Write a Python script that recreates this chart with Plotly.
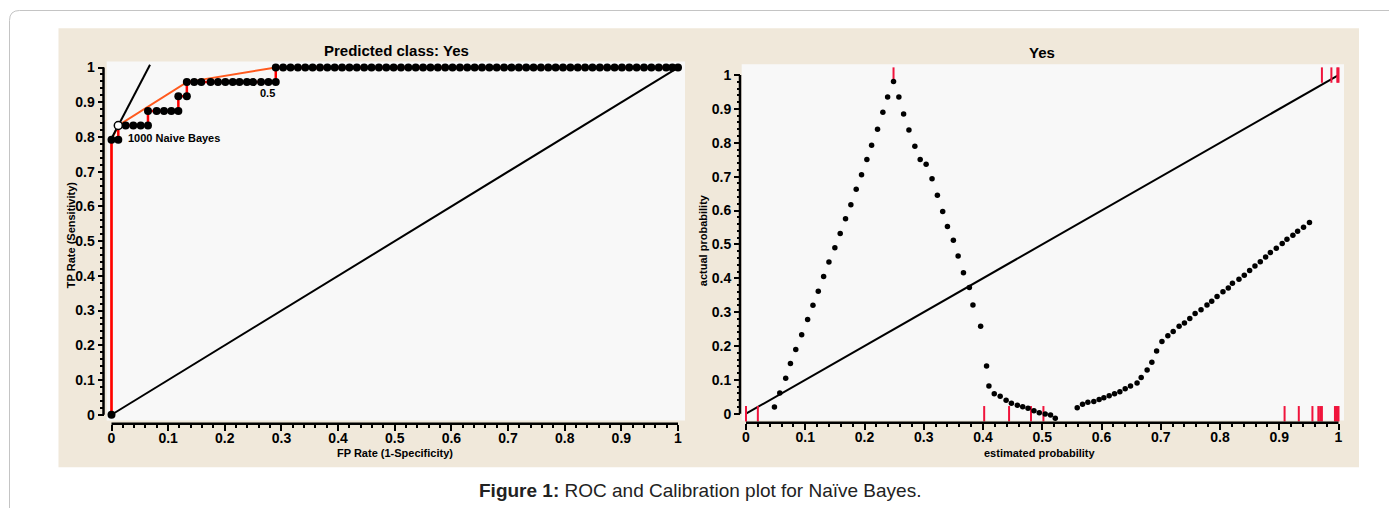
import plotly.graph_objects as go

# ---------------- data ----------------
# ROC curve (left panel)
roc_fp = [0.0, 0.0, 0.012, 0.012, 0.025, 0.0385, 0.0515, 0.0644,
          0.0644, 0.0797, 0.0927, 0.1056, 0.118,
          0.118, 0.133,
          0.133, 0.146, 0.1585, 0.175, 0.188, 0.201, 0.214, 0.226, 0.239, 0.250, 0.264, 0.277, 0.290,
          0.290, 0.303, 0.316, 0.329, 0.342, 0.355, 0.368, 0.381, 0.394, 0.407, 0.420, 0.433, 0.446,
          0.459, 0.472, 0.485, 0.498, 0.511, 0.524, 0.537, 0.550, 0.563, 0.576, 0.589, 0.602, 0.615,
          0.628, 0.641, 0.654, 0.667, 0.680, 0.693, 0.706, 0.719, 0.732, 0.745, 0.758, 0.771, 0.784,
          0.797, 0.810, 0.823, 0.836, 0.849, 0.862, 0.875, 0.888, 0.901, 0.914, 0.927, 0.940, 0.953,
          0.966, 0.979, 0.990, 1.0]
roc_tp = [0.0, 0.792, 0.792, 0.833, 0.833, 0.833, 0.833, 0.833,
          0.875, 0.875, 0.875, 0.875, 0.875,
          0.917, 0.917,
          0.958, 0.958, 0.958, 0.958, 0.958, 0.958, 0.958, 0.958, 0.958, 0.958, 0.958, 0.958, 0.958,
          1.0, 1.0, 1.0, 1.0, 1.0, 1.0, 1.0, 1.0, 1.0, 1.0, 1.0, 1.0, 1.0,
          1.0, 1.0, 1.0, 1.0, 1.0, 1.0, 1.0, 1.0, 1.0, 1.0, 1.0, 1.0, 1.0,
          1.0, 1.0, 1.0, 1.0, 1.0, 1.0, 1.0, 1.0, 1.0, 1.0, 1.0, 1.0, 1.0,
          1.0, 1.0, 1.0, 1.0, 1.0, 1.0, 1.0, 1.0, 1.0, 1.0, 1.0, 1.0, 1.0,
          1.0, 1.0, 1.0, 1.0]
hull_fp = [0.0, 0.0, 0.012, 0.133, 0.290, 1.0]
hull_tp = [0.0, 0.792, 0.833, 0.958, 1.0, 1.0]
tangent_fp = [-0.003, 0.068]
tangent_tp = [0.786, 1.008]
chosen_fp = [0.012]
chosen_tp = [0.833]
diag = [0.0, 1.0]

# Calibration plot (right panel)
cal_est = [0.048, 0.057, 0.067, 0.075, 0.084, 0.094, 0.104, 0.113, 0.122, 0.131, 0.140, 0.150,
           0.159, 0.168, 0.177, 0.186, 0.195, 0.204, 0.212, 0.222, 0.231, 0.239, 0.249,
           0.258, 0.266, 0.275, 0.285, 0.294, 0.304, 0.314, 0.323, 0.332, 0.340, 0.350, 0.358,
           0.367, 0.377, 0.383, 0.396, 0.406, 0.410, 0.419, 0.429, 0.439, 0.448, 0.458, 0.467,
           0.476, 0.486, 0.495, 0.505, 0.514, 0.522,
           0.559, 0.568, 0.577, 0.587, 0.596, 0.604, 0.613, 0.622, 0.631, 0.640, 0.649, 0.660,
           0.667, 0.677, 0.685, 0.693, 0.702, 0.712, 0.721, 0.731, 0.740, 0.749, 0.758, 0.768,
           0.778, 0.786, 0.795, 0.805, 0.814, 0.821, 0.832, 0.841, 0.850, 0.859, 0.868, 0.877,
           0.885, 0.895, 0.905, 0.913, 0.923, 0.931, 0.941, 0.951]
cal_act = [0.020, 0.061, 0.105, 0.148, 0.190, 0.233, 0.278, 0.320, 0.362, 0.405, 0.448, 0.490,
           0.532, 0.576, 0.617, 0.663, 0.706, 0.751, 0.793, 0.840, 0.890, 0.935, 0.981,
           0.935, 0.885, 0.838, 0.790, 0.751, 0.737, 0.694, 0.645, 0.597, 0.553, 0.512, 0.466,
           0.416, 0.373, 0.321, 0.258, 0.141, 0.082, 0.059, 0.052, 0.040, 0.031, 0.025, 0.021,
           0.016, 0.009, 0.003, -0.001, -0.004, -0.013,
           0.018, 0.028, 0.034, 0.036, 0.042, 0.047, 0.053, 0.059, 0.065, 0.074, 0.082, 0.091,
           0.107, 0.129, 0.152, 0.185, 0.213, 0.230, 0.243, 0.258, 0.268, 0.281, 0.296, 0.307,
           0.321, 0.332, 0.346, 0.360, 0.371, 0.385, 0.397, 0.409, 0.423, 0.436, 0.449, 0.463,
           0.476, 0.489, 0.503, 0.515, 0.527, 0.539, 0.551, 0.565]
rug_no_est = [0.0, 0.020, 0.402, 0.444, 0.481, 0.502, 0.909, 0.933, 0.956, 0.966, 0.969, 0.972,
              0.994, 0.996, 0.998, 1.0]
rug_no_act = [0, 0, 0, 0, 0, 0, 0, 0, 0, 0, 0, 0, 0, 0, 0, 0]
rug_yes_est = [0.249, 0.972, 0.988, 0.998, 1.0]
rug_yes_act = [1, 1, 1, 1, 1]

tick_vals = [0.0, 0.1, 0.2, 0.3, 0.4, 0.5, 0.6, 0.7, 0.8, 0.9, 1.0]
tick_labels = ["0", "0.1", "0.2", "0.3", "0.4", "0.5", "0.6", "0.7", "0.8", "0.9", "1"]

# ---------------- geometry (page pixels) ----------------
PAGE_W, PAGE_H = 1397, 508
OFF = 8  # default body margin of the html page
W, H = PAGE_W - OFF, PAGE_H - OFF


def fx(p):
    return (p - OFF) / W


def fy(p):
    return 1 - (p - OFF) / H


# left panel
L_X0, L_X1, L_Y0, L_Y1 = 111.5, 678.0, 416.0, 66.0
L_BG = (106.7, 60.0, 685.0, 421.7)
# right panel
R_X0, R_X1, R_Y0, R_Y1 = 746.0, 1338.5, 415.0, 73.6
R_BG = (741.7, 62.7, 1344.0, 421.7)


def ranges(x0, x1, y0, y1, bg):
    l, t, r, b = bg
    xr = [(l - x0) / (x1 - x0), (r - x0) / (x1 - x0)]
    yr = [(y0 - b) / (y0 - y1), (y0 - t) / (y0 - y1)]
    return xr, yr


LXR, LYR = ranges(L_X0, L_X1, L_Y0, L_Y1, L_BG)
RXR, RYR = ranges(R_X0, R_X1, R_Y0, R_Y1, R_BG)

BLACK = "#000000"
RED = "#ff0000"
RUG = "#f0143c"
ORANGE = "#ff5a1e"

fig = go.Figure()

# ---- left: ROC ----
fig.add_trace(go.Scatter(x=diag, y=diag, mode="lines", line=dict(color=BLACK, width=2),
                         xaxis="x", yaxis="y", hoverinfo="skip"))
fig.add_trace(go.Scatter(x=hull_fp, y=hull_tp, mode="lines", line=dict(color=ORANGE, width=2),
                         xaxis="x", yaxis="y", hoverinfo="skip"))
fig.add_trace(go.Scatter(x=roc_fp, y=roc_tp, mode="lines", line=dict(color=RED, width=2.5),
                         xaxis="x", yaxis="y", hoverinfo="skip"))
fig.add_trace(go.Scatter(x=roc_fp, y=roc_tp, mode="markers",
                         marker=dict(color=BLACK, size=8, line=dict(width=0)),
                         cliponaxis=False, xaxis="x", yaxis="y", hoverinfo="skip"))
fig.add_trace(go.Scatter(x=tangent_fp, y=tangent_tp, mode="lines", line=dict(color=BLACK, width=2),
                         xaxis="x", yaxis="y", hoverinfo="skip"))
fig.add_trace(go.Scatter(x=chosen_fp, y=chosen_tp, mode="markers",
                         marker=dict(color="white", size=8, line=dict(color=BLACK, width=1.5)),
                         cliponaxis=False, xaxis="x", yaxis="y", hoverinfo="skip"))

# ---- right: calibration ----
fig.add_trace(go.Scatter(x=diag, y=diag, mode="lines", line=dict(color=BLACK, width=2),
                         xaxis="x2", yaxis="y2", hoverinfo="skip"))
fig.add_trace(go.Scatter(x=rug_no_est, y=rug_no_act, mode="markers",
                         marker=dict(symbol="line-ns", size=11, line=dict(color=RUG, width=2)),
                         cliponaxis=False, xaxis="x2", yaxis="y2", hoverinfo="skip"))
fig.add_trace(go.Scatter(x=rug_yes_est, y=rug_yes_act, mode="markers",
                         marker=dict(symbol="line-ns", size=11, line=dict(color=RUG, width=2)),
                         cliponaxis=False, xaxis="x2", yaxis="y2", hoverinfo="skip"))
fig.add_trace(go.Scatter(x=cal_est, y=cal_act, mode="markers",
                         marker=dict(color=BLACK, size=5.5, line=dict(width=0)),
                         cliponaxis=False, xaxis="x2", yaxis="y2", hoverinfo="skip"))

minor_vals = [round(i * 0.02, 2) for i in range(51) if i % 5 != 0]
tickfont = dict(family="Arial", size=14, color=BLACK, weight="bold")


def axis(domain, rng, position, standoff=0):
    return dict(domain=domain, range=rng, anchor="free", position=position,
                tickmode="array", tickvals=tick_vals, ticktext=tick_labels,
                ticks="outside", ticklen=6, tickwidth=2, tickcolor=BLACK,
                tickfont=tickfont, showline=False, showgrid=False, zeroline=False,
                fixedrange=True, ticklabelstandoff=standoff,
                minor=dict(tickmode="array", tickvals=minor_vals, ticks="outside",
                           ticklen=3.5, tickwidth=1.5, tickcolor=BLACK, showgrid=False))


shapes = []
# outer rounded frame
r = 10
shapes.append(dict(type="path", xref="paper", yref="paper",
                   path=f"M {fx(9.5)},{fy(530)} L {fx(9.5)},{fy(8.5 + r)} "
                        f"Q {fx(9.5)},{fy(8.5)} {fx(9.5 + r)},{fy(8.5)} L {fx(1440)},{fy(8.5)}",
                   line=dict(color="#c4c4c4", width=1), layer="below"))
# beige panel
shapes.append(dict(type="rect", xref="paper", yref="paper", x0=fx(58.5), x1=fx(1359),
                   y0=fy(469), y1=fy(26.5), fillcolor="#f0e8da", line=dict(width=0), layer="below"))
# plot backgrounds
for bg in (L_BG, R_BG):
    shapes.append(dict(type="rect", xref="paper", yref="paper", x0=fx(bg[0]), x1=fx(bg[2]),
                       y0=fy(bg[3]), y1=fy(bg[1]), fillcolor="#f8f8f8", line=dict(width=0),
                       layer="below"))
# axis spines spanning 0..1 only
for (xs, y_top, y_bot) in ((103.5, L_Y1, L_Y0), (740.0, R_Y1, R_Y0)):
    shapes.append(dict(type="line", xref="paper", yref="paper", x0=fx(xs), x1=fx(xs),
                       y0=fy(y_bot), y1=fy(y_top), line=dict(color=BLACK, width=2.5)))
for (ys, x_l, x_r) in ((425.0, L_X0, L_X1), (424.0, R_X0, R_X1)):
    shapes.append(dict(type="line", xref="paper", yref="paper", x0=fx(x_l), x1=fx(x_r),
                       y0=fy(ys), y1=fy(ys), line=dict(color=BLACK, width=2.5)))


def ann(text, x, y, size, angle=0, bold=True, color=BLACK, xanchor="center"):
    return dict(text=text, x=fx(x), y=fy(y), xref="paper", yref="paper", showarrow=False,
                xanchor=xanchor, yanchor="middle", textangle=angle,
                font=dict(family="Arial", size=size, color=color,
                          weight="bold" if bold else "normal"))


annotations = [
    ann("Predicted class: Yes", 396, 49, 15),
    ann("Yes", 1042, 51, 15),
    ann("FP Rate (1-Specificity)", 395, 455, 11),
    ann("estimated probability", 1040, 455, 11),
    ann("TP Rate (Sensitivity)", 71, 235, 11, angle=-90),
    ann("actual probability", 703, 240, 11, angle=-90),
    dict(text="1000 Naive Bayes", x=0.025, y=0.798, xref="x", yref="y", showarrow=False,
         xanchor="left", yanchor="middle",
         font=dict(family="Arial", size=11, color=BLACK, weight="bold")),
    dict(text="0.5", x=0.275, y=0.927, xref="x", yref="y", showarrow=False,
         xanchor="center", yanchor="middle",
         font=dict(family="Arial", size=11, color=BLACK, weight="bold")),
    ann("<b>Figure 1:</b> ROC and Calibration plot for Naïve Bayes.", 700, 492, 19,
        bold=False, color="#222222"),
]

fig.update_layout(
    width=W, height=H, autosize=False,
    margin=dict(l=0, r=0, t=0, b=0),
    paper_bgcolor="white", plot_bgcolor="rgba(0,0,0,0)",
    showlegend=False,
    xaxis=axis([fx(L_BG[0]), fx(L_BG[2])], LXR, fy(425.0), -4),
    yaxis=axis([fy(L_BG[3]), fy(L_BG[1])], LYR, fx(103.5)),
    xaxis2=axis([fx(R_BG[0]), fx(R_BG[2])], RXR, fy(424.0), -4),
    yaxis2=axis([fy(R_BG[3]), fy(R_BG[1])], RYR, fx(740.0)),
    shapes=shapes,
    annotations=annotations,
)

fig.write_html("out.html", config={"displayModeBar": False})
